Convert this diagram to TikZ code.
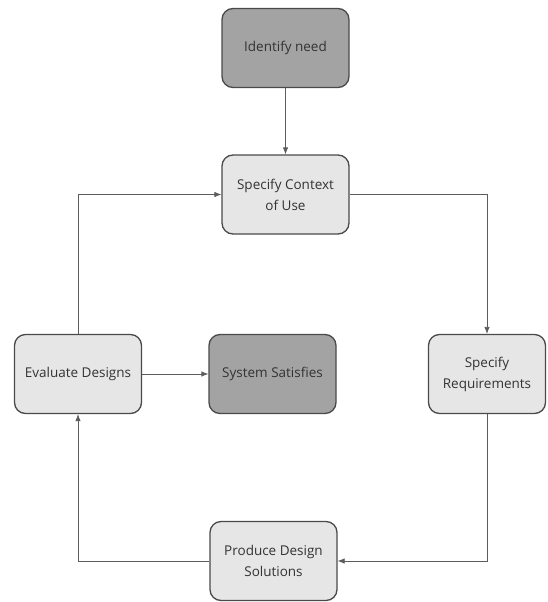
\documentclass[tikz,border=0pt]{standalone}
\usepackage{fontspec}
\setmainfont{Open Sans}
\usetikzlibrary{arrows.meta}
\definecolor{darkfill}{HTML}{A3A3A3}
\definecolor{lightfill}{HTML}{E6E6E6}
\definecolor{edge}{HTML}{4A4A4A}
\begin{document}
\begin{tikzpicture}[x=1pt,y=-1pt,
  box/.style={draw=edge,line width=1.3pt,rounded corners=11pt,minimum width=127pt,minimum height=79pt,align=center,font=\fontsize{13.5}{21}\selectfont,text=black!80,inner sep=2pt},
  darkbox/.style={box,fill=darkfill},
  lightbox/.style={box,fill=lightfill},
  conn/.style={draw=edge!90,line width=0.8pt,-{Latex[length=7pt,width=5.5pt]}}]
\useasboundingbox (0,0) rectangle (547,602);
\node[darkbox] (need) at (285.5,48) {Identify need};
\node[lightbox] (ctx) at (285.5,194.5) {Specify Context\\of Use};
\node[lightbox] (eval) at (78,374) {Evaluate Designs};
\node[darkbox] (sys) at (272.5,374) {System Satisfies};
\node[lightbox,minimum width=117pt] (req) at (487,374) {Specify\\Requirements};
\node[lightbox] (prod) at (273.5,561) {Produce Design\\Solutions};
\draw[conn] (need) -- (ctx);
\draw[conn] (ctx.east) -| (req.north);
\draw[conn] (req.south) |- (prod.east);
\draw[conn] (prod.west) -| (eval.south);
\draw[conn] (eval.north) |- (ctx.west);
\draw[conn] (eval) -- (sys);
\end{tikzpicture}
\end{document}
